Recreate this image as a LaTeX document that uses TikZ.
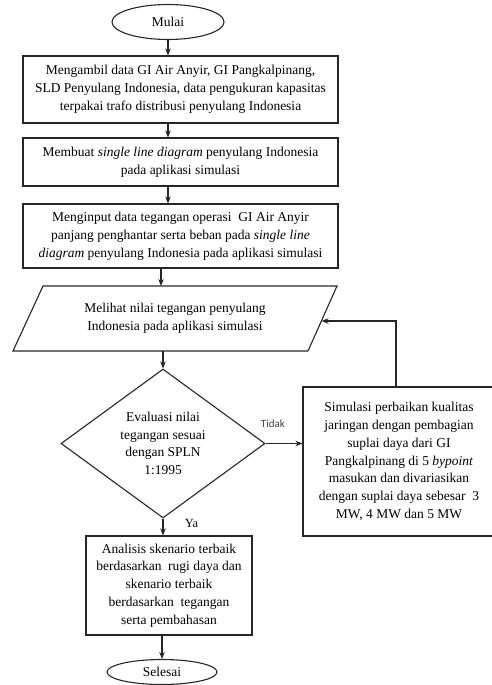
\documentclass[tikz,border=0pt]{standalone}
\usepackage{fontspec}
\setmainfont{Liberation Serif}
\newfontfamily\labelsans{Carlito}
\usetikzlibrary{shapes.geometric,arrows.meta}
\begin{document}
\begin{tikzpicture}[x=1pt,y=-1pt,
  line/.style={draw=black!85,line width=1.1pt},
  arr/.style={line,-{Stealth[length=7pt,width=5.5pt]}},
  procbox/.style={line,rectangle,align=center,inner sep=0pt,font=\fontsize{13.5}{17.8}\selectfont},
  term/.style={line,ellipse,inner sep=0pt,font=\fontsize{13.5}{15}\selectfont},
  decis/.style={line,diamond,aspect=1.37,inner sep=0pt,align=center,font=\fontsize{13.5}{17.5}\selectfont},
  plain/.style={align=center,inner sep=0pt,font=\fontsize{13.5}{17.8}\selectfont}]
\useasboundingbox (0,0) rectangle (492,685);

\node[term,minimum width=112pt,minimum height=35pt] (mulai) at (168,22) {Mulai};

\node[procbox,minimum width=315pt,minimum height=67pt] (b1) at (180.5,89.5)
 {Mengambil data GI Air Anyir, GI Pangkalpinang,\\SLD Penyulang Indonesia, data pengukuran kapasitas\\terpakai trafo distribusi penyulang Indonesia};

\node[procbox,minimum width=315pt,minimum height=48pt] (b2) at (180.5,162)
 {Membuat \textit{single line diagram} penyulang Indonesia\\pada aplikasi simulasi};

\node[procbox,minimum width=315pt,minimum height=64pt] (b3) at (180.5,236)
 {Menginput data tegangan operasi~ GI Air Anyir\\panjang penghantar serta beban pada \textit{single line}\\\textit{diagram} penyulang Indonesia pada aplikasi simulasi};

% parallelogram (data)
\coordinate (ptl) at (43,286);
\coordinate (ptr) at (337,286);
\coordinate (pbr) at (308,351);
\coordinate (pbl) at (13,351);
\draw[line] (ptl) -- (ptr) -- (pbr) -- (pbl) -- cycle;
\node[plain] (para) at (175,318) {Melihat nilai tegangan penyulang\\Indonesia pada aplikasi simulasi};
\coordinate (ptop) at (161,286);
\coordinate (pbot) at (163,351);
\coordinate (pin) at (321.5,321);

\node[decis,minimum width=204pt,minimum height=149pt] (diam) at (163,443.5)
 {Evaluasi nilai\\tegangan sesuai\\dengan SPLN\\1:1995};

\node[procbox,minimum width=192pt,minimum height=149pt] (rbox) at (399,461.5)
 {Simulasi perbaikan kualitas\\jaringan dengan pembagian\\suplai daya dari GI\\Pangkalpinang di 5 \textit{bypoint}\\masukan dan divariasikan\\dengan suplai daya sebesar~ 3\\MW, 4 MW dan 5 MW};

\node[procbox,minimum width=166pt,minimum height=99pt] (ana) at (169,585.5)
 {Analisis skenario terbaik\\berdasarkan~ rugi daya dan\\skenario terbaik\\berdasarkan~ tegangan\\serta pembahasan};

\node[term,minimum width=110pt,minimum height=25pt] (sel) at (162,672) {Selesai};

% connectors
\draw[arr] (mulai.south) -- (mulai.south |- b1.north);
\draw[arr] (b1.south -| mulai.south) -- (b2.north -| mulai.south);
\draw[arr] (b2.south -| mulai.south) -- (b3.north -| mulai.south);
\draw[arr] (b3.south -| ptop) -- (ptop);
\draw[arr] (pbot) -- (diam.north);
\draw[arr] (diam.east) -- node[pos=0.2,above=12pt,font=\labelsans\fontsize{11}{13}\selectfont,text=black!75] {Tidak} (diam.east -| rbox.west);
\draw[arr] (rbox.north -| 396,0) |- (pin);
\draw[arr] (diam.south) -- node[pos=0.3,right=18pt,font=\fontsize{12.5}{14}\selectfont] {Ya} (diam.south |- ana.north);
\draw[arr] (ana.south -| sel.north) -- (sel.north);
\end{tikzpicture}
\end{document}
